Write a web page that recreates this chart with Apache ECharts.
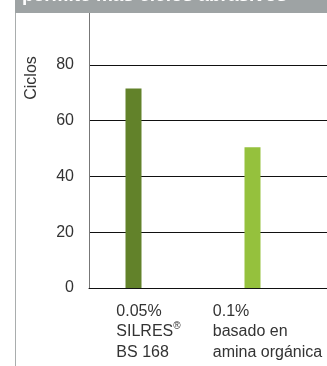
<!DOCTYPE html>
<html>
<head>
<meta charset="utf-8">
<script src="https://cdn.jsdelivr.net/npm/echarts@6/dist/echarts.min.js"></script>
<style>
  html, body { margin: 0; padding: 0; background: #fff; }
  #chart { width: 327px; height: 366px; }
</style>
</head>
<body>
<div id="chart"></div>
<script>
// data
var categories = ['0.05%\nSILRES®\nBS 168', '0.1%\nbasado en\namina orgánica']
var cycles = [71.5, 50.5]
var barColors = ['#62822a', '#95c13d']
var yTicks = [0, 20, 40, 60, 80]
var titleText = 'permite más ciclos abrasivos'
var yName = 'Ciclos'

var font = "'Liberation Sans', Arial, sans-serif"

// each line becomes a rich token so lines stay left aligned inside a centred block
function labelFormatter(value) {
  return value.split('\n').map(function (line) {
    return line.split('®').map(function (part) {
      return part ? '{l|' + part + '}' : ''
    }).join('{s|®}')
  }).join('\n')
}

var chart = echarts.init(document.getElementById('chart'), null, { renderer: 'canvas' })

var option = {
  animation: false,
  textStyle: { fontFamily: font },
  grid: {
    left: 89,
    right: 0,
    top: 13,
    bottom: 78,
    containLabel: false
  },
  xAxis: {
    type: 'category',
    data: categories,
    axisTick: { show: false },
    axisLine: { lineStyle: { color: '#111', width: 1 } },
    axisLabel: {
      interval: 0,
      margin: 13,
      align: 'center',
      formatter: labelFormatter,
      rich: {
        l: { fontSize: 16, lineHeight: 20.5, color: '#333', fontFamily: font, align: 'left' },
        s: { fontSize: 10, lineHeight: 20.5, color: '#333', fontFamily: font, align: 'left', verticalAlign: 'top', padding: [0, 0, 4, 0] }
      }
    }
  },
  yAxis: {
    type: 'value',
    min: 0,
    max: 98.6,
    interval: 20,
    axisTick: { show: false },
    axisLine: { show: true, lineStyle: { color: '#777', width: 1 } },
    splitLine: { show: true, showMaxLine: false, lineStyle: { color: '#111', width: 1 } },
    axisLabel: {
      fontSize: 16,
      color: '#333',
      margin: 15,
      showMaxLabel: false,
      formatter: function (v) { return yTicks.indexOf(v) >= 0 ? String(v) : '' }
    }
  },
  series: [
    {
      name: 'ciclos',
      type: 'bar',
      barWidth: 16,
      barGap: '87.5%',
      data: cycles.map(function (v, i) {
        return { value: v, itemStyle: { color: barColors[i] } }
      })
    },
    {
      // empty partner series, only reserves the space right of each bar
      name: 'spacer',
      type: 'bar',
      barWidth: 16,
      silent: true,
      data: []
    }
  ],
  graphic: [
    {
      type: 'rect',
      z: 10,
      shape: { x: 15, y: 0, width: 312, height: 13 },
      style: { fill: '#9ea3a4' }
    },
    {
      type: 'text',
      z: 11,
      x: 22,
      y: 5,
      style: {
        text: titleText,
        font: 'bold 19px ' + font,
        fill: '#ffffff',
        textAlign: 'left',
        textVerticalAlign: 'bottom'
      }
    },
    {
      type: 'line',
      z: 10,
      shape: { x1: 15.5, y1: 13, x2: 15.5, y2: 366 },
      style: { stroke: '#a9adad', lineWidth: 1 }
    },
    {
      type: 'text',
      z: 10,
      x: 32,
      y: 78,
      rotation: Math.PI / 2,
      style: {
        text: yName,
        font: '16px ' + font,
        fill: '#333',
        textAlign: 'center',
        textVerticalAlign: 'middle'
      }
    }
  ]
}

chart.setOption(option)
</script>
</body>
</html>
